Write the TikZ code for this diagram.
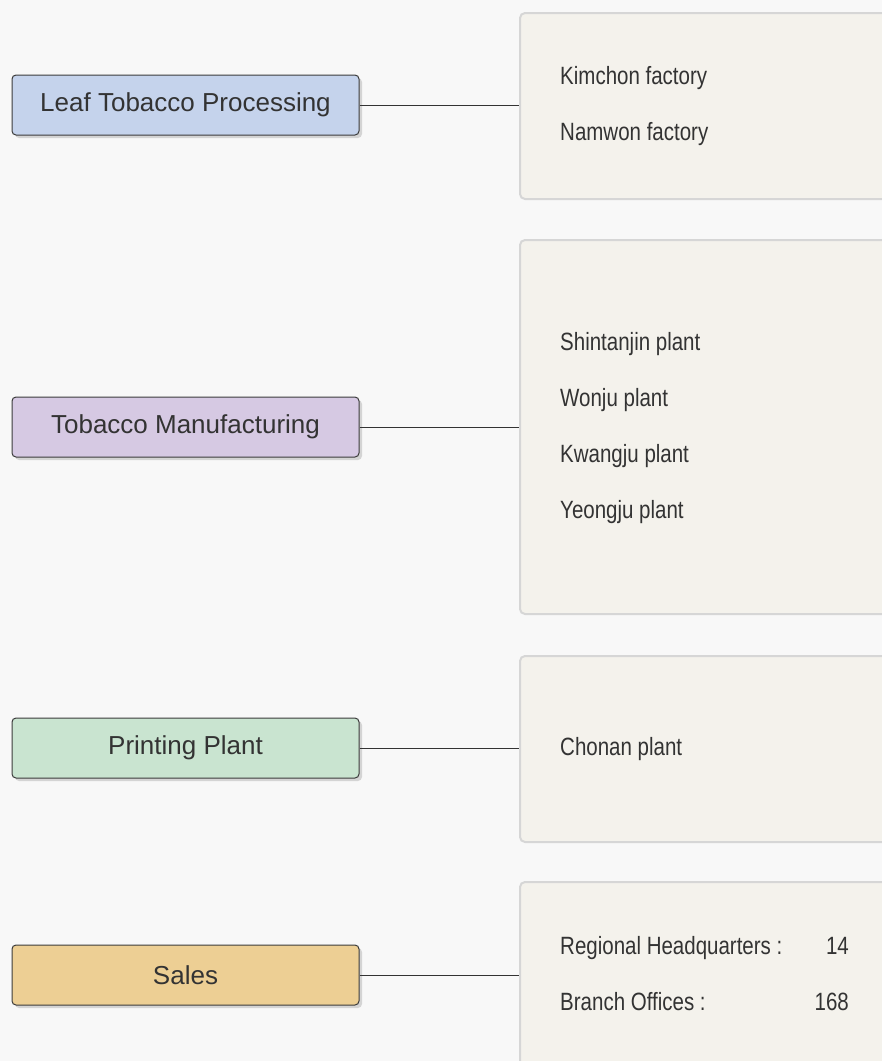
\documentclass[tikz,border=0pt]{standalone}
\usepackage{fontspec}
\setmainfont{Liberation Sans}
\newfontfamily\narrowfont[FakeStretch=0.82]{Liberation Sans}
\usetikzlibrary{positioning,shadows}

\definecolor{bgcol}{HTML}{F8F8F8}
\definecolor{txtcol}{HTML}{333333}
\definecolor{boxline}{HTML}{3C3C3C}
\definecolor{panelfill}{HTML}{F4F2EC}
\definecolor{panelline}{HTML}{D6D6D6}
\definecolor{leafcol}{HTML}{C5D3EC}
\definecolor{mfgcol}{HTML}{D6C9E3}
\definecolor{printcol}{HTML}{C9E4D0}
\definecolor{salescol}{HTML}{EDCF94}

\begin{document}
\begin{tikzpicture}[
    x=1pt, y=-1pt,
    division/.style={draw=boxline, line width=1pt, rounded corners=4pt,
        minimum width=347pt, minimum height=60pt, inner sep=0pt, text=txtcol,
        font=\fontsize{26}{30}\selectfont,
        drop shadow={shadow xshift=3pt, shadow yshift=-3pt, fill=black!30}},
    panel/.style={draw=panelline, line width=2pt, fill=panelfill,
        rounded corners=5pt, minimum width=420pt, anchor=north west, inner sep=0pt},
    site/.style={anchor=base west, inner sep=0pt, text=txtcol,
        font=\narrowfont\fontsize{25}{30}\selectfont},
    count/.style={site, anchor=base east},
    link/.style={draw=txtcol, line width=1pt}
]

\path[use as bounding box] (0,0) rectangle (882,1061);
\clip (0,0) rectangle (882,1061);
\fill[bgcol] (0,0) rectangle (882,1061);

% divisions
\node[division, fill=leafcol]  (leaf)  at (185.5,105) {Leaf Tobacco Processing};
\node[division, fill=mfgcol]   (mfg)   at (185.5,427) {Tobacco Manufacturing};
\node[division, fill=printcol] (print) at (185.5,748) {Printing Plant};
\node[division, fill=salescol] (sales) at (185.5,975) {Sales};

% site panels
\node[panel, minimum height=186pt] (leafpanel)  at (519,12)  {};
\node[panel, minimum height=374pt] (mfgpanel)   at (519,239) {};
\node[panel, minimum height=186pt] (printpanel) at (519,655) {};
\node[panel, minimum height=230pt] (salespanel) at (519,881) {};

\draw[link] (leaf.east)  -- (leaf.east -| leafpanel.west);
\draw[link] (mfg.east)   -- (mfg.east -| mfgpanel.west);
\draw[link] (print.east) -- (print.east -| printpanel.west);
\draw[link] (sales.east) -- (sales.east -| salespanel.west);

\node[site] (kimchon) at (560,84)  {Kimchon factory};
\node[site] (namwon)  at (560,140) {Namwon factory};

\node[site] (shintanjin) at (560,350) {Shintanjin plant};
\node[site] (wonju)      at (560,406) {Wonju plant};
\node[site] (kwangju)    at (560,462) {Kwangju plant};
\node[site] (yeongju)    at (560,518) {Yeongju plant};

\node[site] (chonan) at (560,755) {Chonan plant};

\node[site]  (regional)  at (560,954)  {Regional Headquarters :};
\node[count] (regionaln) at (849,954)  {14};
\node[site]  (branch)    at (560,1010) {Branch Offices :};
\node[count] (branchn)   at (849,1010) {168};

\end{tikzpicture}
\end{document}
